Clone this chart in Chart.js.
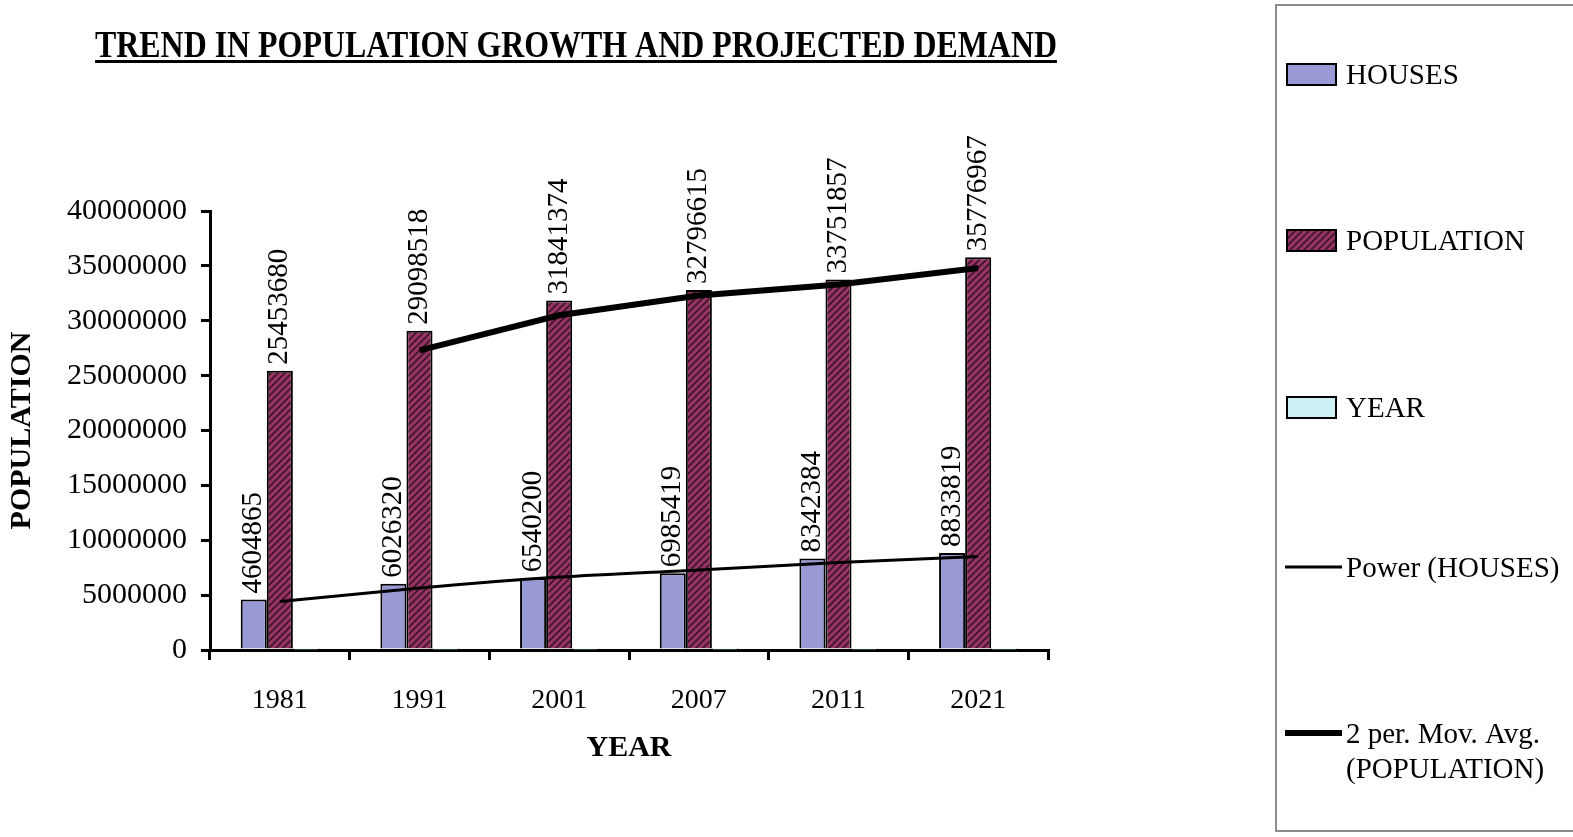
<!DOCTYPE html>
<html>
<head>
<meta charset="utf-8">
<title>Trend in population growth and projected demand</title>
<script src="https://cdn.jsdelivr.net/npm/chart.js@4/dist/chart.umd.min.js"></script>
<style>
  html, body { margin: 0; padding: 0; background: #fff; }
  canvas { display: block; }
</style>
</head>
<body>
<canvas id="chart" width="1573" height="837"></canvas>
<script>
'use strict';

// data
const years = ['1981', '1991', '2001', '2007', '2011', '2021'];
const houses = [4604865, 6026320, 6540200, 6985419, 8342384, 8833819];
const population = [25453680, 29098518, 31841374, 32796615, 33751857, 35776967];
const yearValues = [1981, 1991, 2001, 2007, 2011, 2021];
// trendlines as they sit in the picture
const powerHouses = [4410000, 5650000, 6650000, 7300000, 7970000, 8510000];
const movAvgPopulation = [null, 27300000, 30500000, 32300000, 33300000, 34800000];
const yTicks = [0, 5000000, 10000000, 15000000, 20000000, 25000000, 30000000, 35000000, 40000000];

const serif = '"Liberation Serif", "Times New Roman", serif';

// hatched fill for the population bars
function hatch() {
  const c = document.createElement('canvas');
  c.width = 7;
  c.height = 7;
  const g = c.getContext('2d');
  g.fillStyle = '#993366';
  g.fillRect(0, 0, 7, 7);
  g.strokeStyle = '#3b1626';
  g.lineWidth = 1.6;
  g.beginPath();
  g.moveTo(-1, 8); g.lineTo(8, -1);
  g.moveTo(-4, 4); g.lineTo(4, -4);
  g.moveTo(3, 11); g.lineTo(11, 3);
  g.stroke();
  return g.createPattern(c, 'repeat');
}

const canvasEl = document.getElementById('chart');
const ctx = canvasEl.getContext('2d');
const popFill = hatch();

// rotated value labels above the bars
const barLabels = {
  id: 'barLabels',
  afterDatasetsDraw(chart) {
    const c = chart.ctx;
    [0, 1].forEach(i => {
      const meta = chart.getDatasetMeta(i);
      meta.data.forEach((bar, j) => {
        c.save();
        c.translate(bar.x, bar.y - 6);
        c.rotate(-Math.PI / 2);
        c.font = '29px ' + serif;
        c.fillStyle = '#000';
        c.textAlign = 'left';
        c.textBaseline = 'middle';
        c.fillText(String(chart.data.datasets[i].data[j]), 0, 0);
        c.restore();
      });
    });
  }
};

// title and the boxed legend on the right
const decorations = {
  id: 'decorations',
  afterDraw(chart) {
    const c = chart.ctx;
    c.save();
    // title, squeezed to the width it has in the picture
    const title = 'TREND IN POPULATION GROWTH AND PROJECTED DEMAND';
    c.font = 'bold 37px ' + serif;
    c.fillStyle = '#000';
    c.textBaseline = 'alphabetic';
    const w = c.measureText(title).width;
    c.save();
    c.translate(95, 57);
    c.scale(962 / w, 1);
    c.textAlign = 'left';
    c.fillText(title, 0, 0);
    c.restore();
    c.fillRect(95, 60, 962, 3);

    // legend frame
    c.strokeStyle = '#8c8c8c';
    c.lineWidth = 2;
    c.strokeRect(1276, 5, 310, 826);

    c.font = '29px ' + serif;
    c.textAlign = 'left';
    c.textBaseline = 'middle';
    const ds = chart.data.datasets;
    const rows = [74, 240, 407, 567, 733];
    ds.forEach((d, i) => {
      const y = rows[i];
      if (d.type === 'line') {
        c.strokeStyle = '#000';
        c.lineWidth = d.borderWidth;
        c.beginPath();
        c.moveTo(1285, y);
        c.lineTo(1342, y);
        c.stroke();
      } else {
        c.fillStyle = d.backgroundColor;
        c.fillRect(1287, y - 10, 49, 21);
        c.strokeStyle = '#000';
        c.lineWidth = 2;
        c.strokeRect(1287, y - 10, 49, 21);
      }
      c.fillStyle = '#000';
      const lines = d.label.split('\n');
      lines.forEach((t, k) => c.fillText(t, 1346, y + 2 + k * 35));
    });
    c.restore();
  }
};

new Chart(ctx, {
  data: {
    labels: years,
    datasets: [{
      type: 'bar',
      label: 'HOUSES',
      data: houses,
      backgroundColor: '#9999d6',
      borderColor: '#000',
      borderWidth: 2,
      order: 2
    }, {
      type: 'bar',
      label: 'POPULATION',
      data: population,
      backgroundColor: popFill,
      borderColor: '#000',
      borderWidth: 2,
      order: 2
    }, {
      type: 'bar',
      label: 'YEAR',
      data: yearValues,
      backgroundColor: '#ccf2f6',
      borderColor: '#000',
      borderWidth: 1,
      order: 2
    }, {
      type: 'line',
      label: 'Power (HOUSES)',
      data: powerHouses,
      borderColor: '#000',
      borderWidth: 3,
      pointRadius: 0,
      tension: 0.3,
      order: 1
    }, {
      type: 'line',
      label: '2 per. Mov. Avg.\n(POPULATION)',
      data: movAvgPopulation,
      borderColor: '#000',
      borderWidth: 6,
      pointRadius: 0,
      tension: 0,
      order: 0
    }]
  },
  options: {
    responsive: false,
    animation: false,
    layout: { padding: { left: 0, right: 525, top: 211, bottom: 0 } },
    datasets: {
      bar: { categoryPercentage: 0.56, barPercentage: 1 }
    },
    plugins: {
      legend: { display: false },
      tooltip: { enabled: false }
    },
    scales: {
      x: {
        offset: true,
        afterFit(scale) { scale.height = 187; },
        grid: {
          offset: true,
          drawOnChartArea: false,
          color: '#000',
          lineWidth: 3,
          tickLength: 10
        },
        border: { display: true, color: '#000', width: 3 },
        ticks: {
          color: '#000',
          font: { family: serif, size: 28 },
          padding: 24,
          maxRotation: 0
        },
        title: {
          display: true,
          text: 'YEAR',
          color: '#000',
          font: { family: serif, size: 30, weight: 'bold' },
          padding: { top: 0, bottom: 71 }
        }
      },
      y: {
        min: 0,
        max: 40000000,
        afterFit(scale) { scale.width = 210; },
        afterBuildTicks(scale) { scale.ticks = yTicks.map(v => ({ value: v })); },
        grid: {
          drawOnChartArea: false,
          color: '#000',
          lineWidth: 3,
          tickLength: 9
        },
        border: { display: true, color: '#000', width: 3 },
        ticks: {
          color: '#000',
          font: { family: serif, size: 30 },
          padding: 14,
          callback: v => String(v)
        },
        title: {
          display: true,
          text: 'POPULATION',
          color: '#000',
          font: { family: serif, size: 30, weight: 'bold' },
          padding: { top: 4, bottom: 0 }
        }
      }
    }
  },
  plugins: [barLabels, decorations]
});
</script>
</body>
</html>
